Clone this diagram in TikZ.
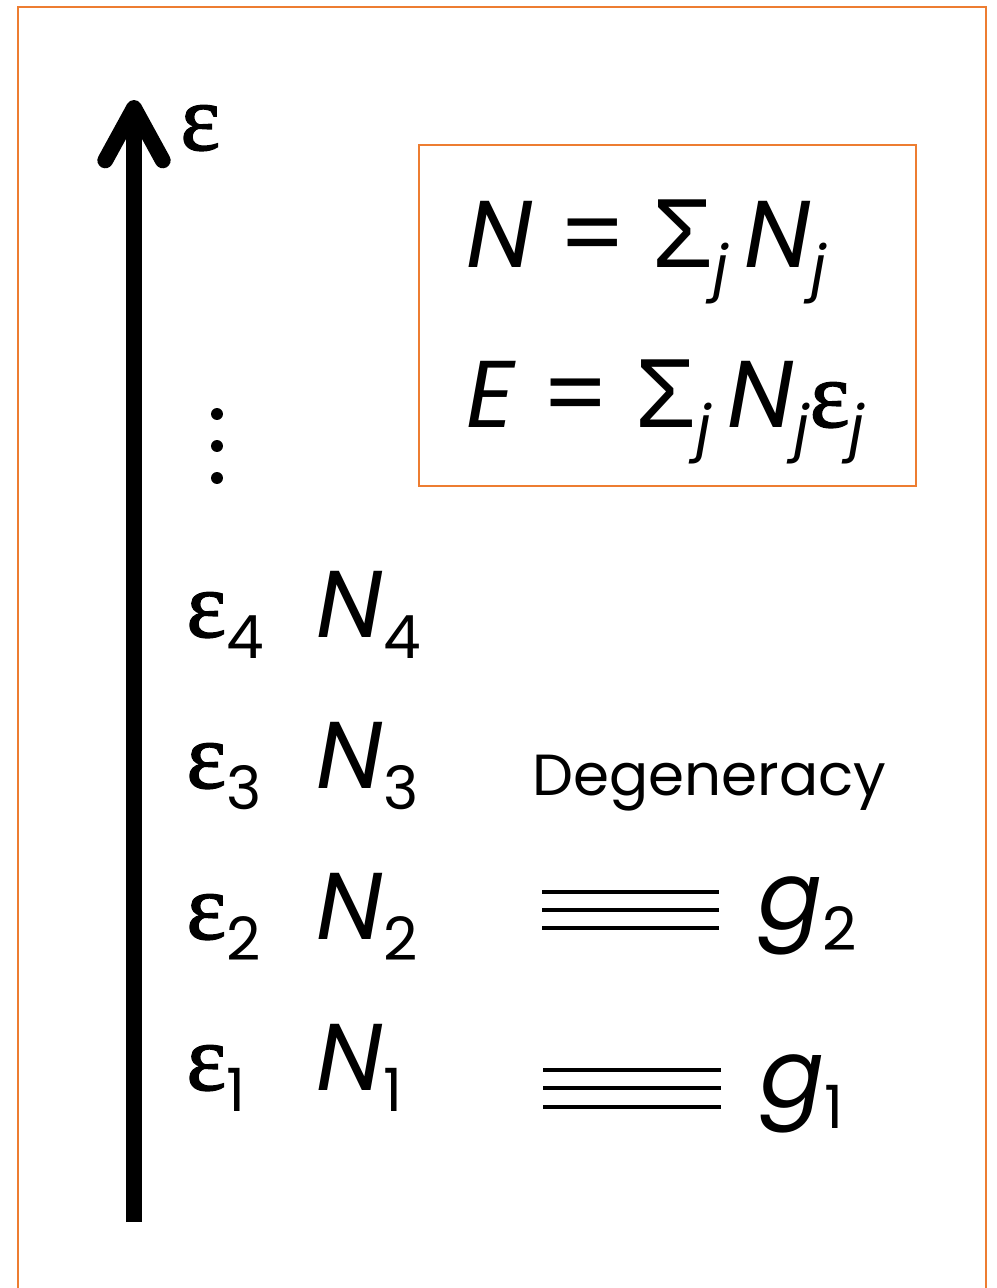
\documentclass[tikz,border=0pt]{standalone}
\usepackage{fontspec}
\setmainfont{Poppins}
\newfontfamily\epsfont[FakeBold=1.5]{Liberation Serif}
\newfontfamily\sigmafont{Liberation Sans}
\usetikzlibrary{arrows.meta}
\definecolor{frameorange}{RGB}{237,125,49}
\newcommand{\eps}{{\epsfont ε}}
\newcommand{\lowsub}[1]{\raisebox{-12pt}{\fontsize{34}{36}\selectfont #1}}
\newcommand{\bigsigma}{{\sigmafont\fontsize{56}{60}\selectfont Σ}}

\begin{document}
\begin{tikzpicture}[x=0.02cm, y=-0.02cm,
  frame/.style={draw=frameorange, line width=1.2pt},
  big/.style={inner sep=0pt, anchor=base west, font=\fontsize{54}{60}\selectfont},
  degtext/.style={inner sep=0pt, anchor=base west, font=\fontsize{33}{40}\selectfont},
  levelline/.style={line width=2.2pt},
  axisarrow/.style={line width=9pt, -{Straight Barb[length=1.05cm, width=1.15cm, round]}}]
  \useasboundingbox (0,0) rectangle (997,1288);
  \draw[frame] (18,1300) -- (18,7) -- (986,7) -- (986,1300);

  % energy axis
  \coordinate (axisbot) at (134,1222);
  \coordinate (axistop) at (134,100);
  \draw[axisarrow] (axisbot) -- (axistop);
  \node[big] (epsaxis) at (180,150) {\eps};

  \foreach \y in {414,446,478}
    \fill (217,\y) circle[radius=3.4pt];

  \foreach \i/\yb in {1/1090, 2/939, 3/788, 4/637} {
    \node[big] (eps\i) at (186,\yb) {\eps\lowsub{\i}};
    \node[big] (n\i) at (316,\yb) {\textit{N}\lowsub{\i}};
  }

  % sums
  \draw[frame] (419,145) rectangle (916,486);
  \node[big] (sumN) at (466,267) {\textit{N} = \bigsigma\lowsub{\textit{j}}\,\textit{N}\lowsub{\textit{j}}};
  \node[big] (sumE) at (466,427) {\textit{E} = \bigsigma\lowsub{\textit{j}}\,\textit{N}\lowsub{\textit{j}}\eps\lowsub{\textit{j}}};

  % degeneracy
  \node[degtext] (degen) at (532,795) {Degeneracy};
  \foreach \y in {892,910,928}
    \draw[levelline] (542,\y) -- (719,\y);
  \foreach \y in {1070,1088,1107}
    \draw[levelline] (543,\y) -- (721,\y);
  \node[big] (g2) at (758,929) {\textit{g}\lowsub{2}};
  \node[big] (g1) at (760,1107) {\textit{g}\lowsub{1}};
\end{tikzpicture}
\end{document}
